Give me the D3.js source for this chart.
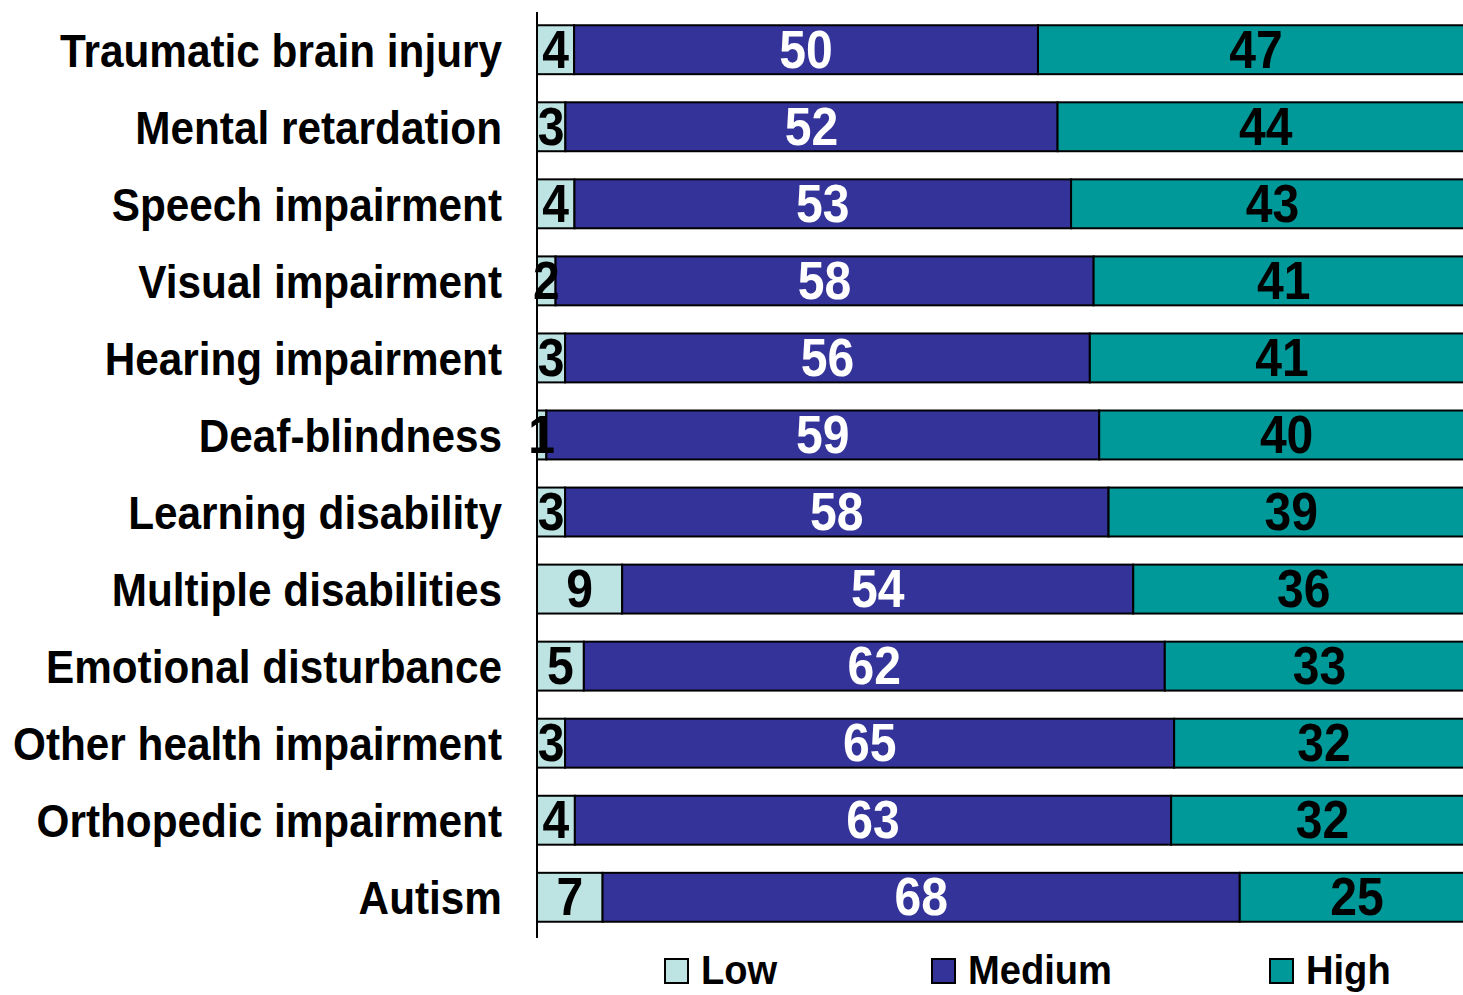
<!DOCTYPE html>
<html><head><meta charset="utf-8">
<script src="https://cdn.jsdelivr.net/npm/d3@7"></script>
<style>body{margin:0;background:#fff}svg{display:block}</style>
</head><body>
<svg id="c" width="1463" height="995"></svg>
<script>
const categories = ["Traumatic brain injury","Mental retardation","Speech impairment","Visual impairment","Hearing impairment","Deaf-blindness","Learning disability","Multiple disabilities","Emotional disturbance","Other health impairment","Orthopedic impairment","Autism"];
const low    = [4,3,4,2,3,1,3,9,5,3,4,7];
const medium = [50,52,53,58,56,59,58,54,62,65,63,68];
const high   = [47,44,43,41,41,40,39,36,33,32,32,25];
const seriesNames = ["Low","Medium","High"];
const colors = ["#BDE3E3","#333399","#009999"];
const labelColors = ["#000","#fff","#000"];

const svg = d3.select("#c");
const font = "'Liberation Sans', Arial, sans-serif";
const sx = 0.89;
const sxLabel = 0.92;

const rows = categories.map((c,i)=>({cat:c, Low:low[i], Medium:medium[i], High:high[i]}));
const stack = d3.stack().keys(seriesNames).offset(d3.stackOffsetExpand);
const stacked = stack(rows);

const x = d3.scaleLinear().domain([0,1]).range([537,1474]);
const y = d3.scaleBand().domain(categories).range([11,936]).paddingInner(0.365).paddingOuter(0.185);

const g = svg.append("g");
stacked.forEach((s,si)=>{
  g.selectAll(null).data(s).enter().append("rect")
    .attr("x", d=>x(d[0])).attr("width", d=>x(d[1])-x(d[0]))
    .attr("y", d=>y(d.data.cat)).attr("height", y.bandwidth())
    .attr("fill", colors[si]).attr("stroke","#000").attr("stroke-width",2);
});
stacked.forEach((s,si)=>{
  g.selectAll(null).data(s).enter().append("text")
    .attr("transform", d=>`translate(${(x(d[0])+x(d[1]))/2},${y(d.data.cat)+y.bandwidth()/2+18}) scale(${sx},1)`)
    .attr("text-anchor","middle")
    .attr("font-family",font).attr("font-weight","bold").attr("font-size",54)
    .attr("fill",labelColors[si])
    .text(d=>d.data[s.key]);
});

// axis
const axis = d3.axisLeft(y).tickSize(0).tickPadding(0);
const ax = svg.append("g").attr("transform","translate(537,0)").call(axis);
ax.select(".domain").remove();
ax.append("line").attr("x1",0).attr("x2",0).attr("y1",12).attr("y2",938).attr("stroke","#000").attr("stroke-width",2);
ax.selectAll(".tick text").remove();
ax.selectAll(".tick").append("text")
  .attr("transform",`translate(-35,17) scale(${sxLabel},1)`)
  .attr("text-anchor","end").attr("fill","#000")
  .attr("font-family",font).attr("font-weight","bold").attr("font-size",46)
  .text(d=>d);

// legend
const legX = [665,932,1270];
const lg = svg.append("g");
seriesNames.forEach((n,i)=>{
  lg.append("rect").attr("x",legX[i]).attr("y",959).attr("width",23).attr("height",24)
    .attr("fill",colors[i]).attr("stroke","#000").attr("stroke-width",2);
  lg.append("text").attr("transform",`translate(${legX[i]+36},984) scale(0.93,1)`)
    .attr("font-family",font).attr("font-weight","bold").attr("font-size",41).attr("fill","#000")
    .text(n);
});
</script>
</body></html>
